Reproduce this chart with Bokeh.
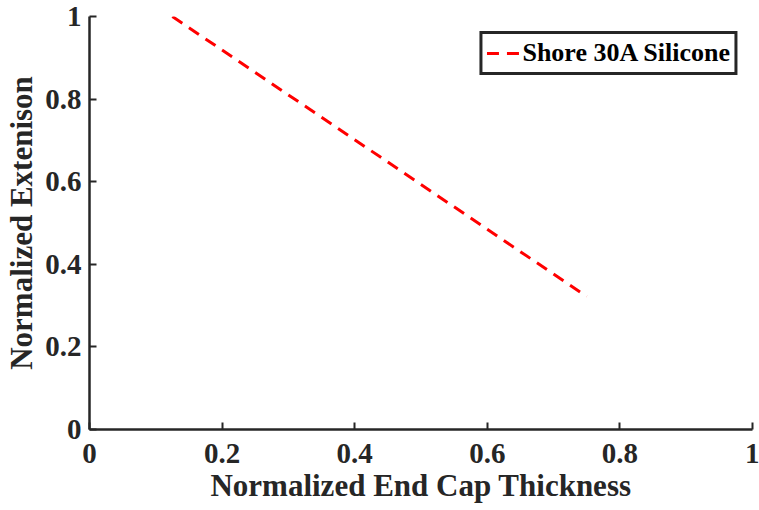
from bokeh.plotting import figure
from bokeh.embed import file_html
from bokeh.resources import INLINE
from bokeh.models import Range1d, FixedTicker

# data
thickness = [0.125, 0.75]
extension = [1.0, 0.322]
series_name = "Shore 30A Silicone"
ticks = [0, 0.2, 0.4, 0.6, 0.8, 1.0]

p = figure(width=759, height=510, output_backend="svg", toolbar_location=None,
           x_range=Range1d(0, 1), y_range=Range1d(0, 1),
           min_border_left=89, min_border_right=7, min_border_top=16, min_border_bottom=81)
p.outline_line_color = None
p.grid.grid_line_color = None
p.background_fill_color = "white"

p.line(thickness, extension, line_color="#ff0000", line_width=3, line_dash="12 8",
       legend_label=series_name)

FONT = "Liberation Serif"
for ax in (p.xaxis[0], p.yaxis[0]):
    ax.ticker = FixedTicker(ticks=ticks)
    ax.axis_line_width = 2.5
    ax.axis_line_color = "#262626"
    ax.major_tick_line_color = "#262626"
    ax.major_tick_line_width = 2
    ax.major_tick_in = 7
    ax.major_tick_out = 0
    ax.minor_tick_line_color = None
    ax.major_label_text_font = FONT
    ax.major_label_text_font_style = "bold"
    ax.major_label_text_font_size = "29px"
    ax.major_label_text_color = "#262626"
    ax.axis_label_text_font = FONT
    ax.axis_label_text_font_style = "bold"
    ax.axis_label_text_font_size = "31px"
    ax.axis_label_text_color = "#262626"

p.xaxis.major_label_standoff = 14
p.yaxis.major_label_standoff = 8
p.xaxis.major_label_overrides = {0: "0", 1.0: "1"}
p.yaxis.major_label_overrides = {0: "0", 1.0: "1"}
p.xaxis.axis_label = "Normalized End Cap Thickness"
p.yaxis.axis_label = "Normalized Extenison"
p.xaxis.axis_label_standoff = 2
p.yaxis.axis_label_standoff = 3

lg = p.legend[0]
lg.location = "top_right"
lg.margin = 15
lg.border_line_color = "#262626"
lg.border_line_width = 3
lg.border_line_alpha = 1
lg.label_text_font = FONT
lg.label_text_font_style = "bold"
lg.label_text_font_size = "26px"
lg.label_text_color = "#000000"
lg.glyph_width = 34
lg.glyph_height = 20
lg.label_standoff = 2
lg.padding = 4
lg.label_height = 20
lg.background_fill_alpha = 1

open("out.html", "w").write(file_html(p, INLINE))
